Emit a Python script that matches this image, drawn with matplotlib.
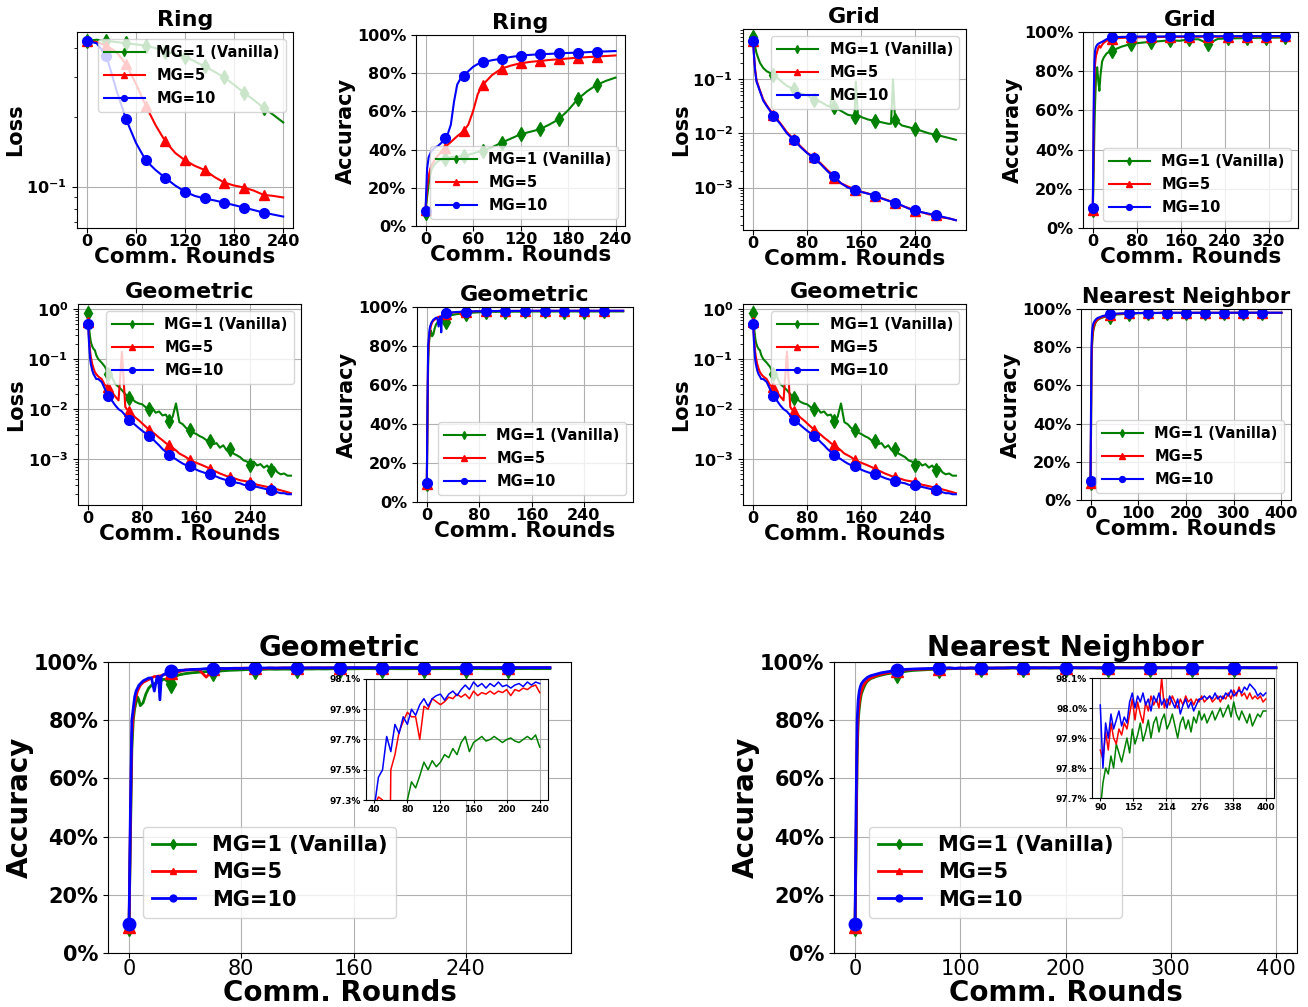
import numpy as np
import matplotlib
matplotlib.use('Agg')
from matplotlib import pyplot as plt
from matplotlib.ticker import NullFormatter

plt.rcParams['font.family'] = 'DejaVu Sans'
plt.rcParams['font.weight'] = 'bold'
plt.rcParams['axes.labelweight'] = 'bold'
plt.rcParams['axes.titleweight'] = 'bold'
plt.rcParams['mathtext.fontset'] = 'custom'
plt.rcParams['mathtext.rm'] = 'DejaVu Sans:bold'
plt.rcParams['mathtext.bf'] = 'DejaVu Sans:bold'
plt.rcParams['mathtext.it'] = 'DejaVu Sans:italic:bold'

labels = ['MG=1 (Vanilla)', 'MG=5', 'MG=10']
colors = ['green', 'red', 'blue']
markers = ['d', '^', 'o']

# ---- Ring: loss ----
ring_loss_x = list(range(0, 241, 12))
ring_loss_g = [0.43, 0.435, 0.43, 0.425, 0.42, 0.415, 0.41, 0.40, 0.386, 0.377, 0.367,
               0.35, 0.333, 0.316, 0.298, 0.277, 0.256, 0.238, 0.22, 0.205, 0.19]
ring_loss_r = [0.43, 0.425, 0.41, 0.385, 0.34, 0.28, 0.225, 0.185, 0.157, 0.14, 0.13,
               0.123, 0.118, 0.11, 0.104, 0.101, 0.099, 0.096, 0.092, 0.091, 0.0896]
ring_loss_b = [0.43, 0.42, 0.37, 0.264, 0.196, 0.155, 0.13, 0.118, 0.109, 0.101, 0.095,
               0.091, 0.0887, 0.087, 0.085, 0.083, 0.081, 0.079, 0.077, 0.0755, 0.074]

# ---- Ring: accuracy (%) ----
ring_acc_x = [0, 2, 4, 6, 8, 12, 16, 20, 24, 28, 32, 36, 40, 44, 48, 54, 60, 66, 72,
              84, 96, 108, 120, 132, 144, 156, 168, 180, 192, 204, 216, 228, 240]
ring_acc_g = [7, 15, 22, 27, 30, 32.5, 34, 35, 35.3, 35.8, 36, 36.2, 36.4, 36.5, 36.6,
              37.3, 38, 38.7, 39.3, 41.2, 43.6, 45.8, 48, 49.3, 50.6, 53, 55.8, 60.5,
              66.3, 70.5, 73.8, 76, 77.7]
ring_acc_r = [8.5, 20, 26, 30, 32, 35, 37, 39, 41, 42.5, 44, 45.5, 47, 48.3, 49.7, 53,
              60, 69, 73.8, 79, 82.4, 84, 85.2, 85.9, 86.4, 86.9, 87.3, 87.7, 88.1,
              88.4, 88.7, 89, 89.3]
ring_acc_b = [8, 30, 36, 38, 39.5, 41, 42, 43.5, 46, 48, 53, 65, 74, 77, 78.3, 81, 83.3,
              84.8, 85.7, 86.8, 87.6, 88.5, 89.2, 89.6, 89.9, 90.1, 90.4, 90.6, 90.8,
              91.0, 91.3, 91.4, 91.6]

# ---- Grid: loss ----
grid_loss_x = [0, 1, 2, 3, 5, 10, 15, 20, 25, 30, 40, 50, 60, 70, 80, 90, 100, 110, 114,
               117, 120, 130, 140, 148, 150, 152, 155, 160, 170, 180, 190, 200, 204, 207,
               210, 220, 230, 240, 250, 260, 270, 280, 290, 300]
grid_loss_g = [0.6, 0.5, 0.45, 0.4, 0.3, 0.2, 0.16, 0.14, 0.13, 0.12, 0.095, 0.075,
               0.065, 0.055, 0.05, 0.042, 0.038, 0.032, 0.031, 0.06, 0.03, 0.026, 0.022,
               0.021, 0.02, 0.09, 0.022, 0.02, 0.018, 0.017, 0.016, 0.015, 0.015, 0.1,
               0.018, 0.014, 0.013, 0.012, 0.011, 0.01, 0.0095, 0.0088, 0.0082, 0.0076]
grid_loss_r = [0.5, 0.32, 0.21, 0.15, 0.095, 0.062, 0.042, 0.033, 0.027, 0.022, 0.0155,
               0.0105, 0.0078, 0.0058, 0.0044, 0.0036, 0.0028, 0.0021, 0.0019, 0.0017,
               0.0015, 0.0012, 0.00105, 0.00095, 0.0009, 0.00088, 0.00086, 0.00084,
               0.00078, 0.0007, 0.00064, 0.00058, 0.00056, 0.00054, 0.00051, 0.00046,
               0.00042, 0.00037, 0.00035, 0.00032, 0.00031, 0.00028, 0.00027, 0.00025]
grid_loss_b = [0.5, 0.3, 0.2, 0.14, 0.09, 0.06, 0.04, 0.032, 0.026, 0.021, 0.015, 0.01,
               0.0076, 0.0056, 0.0043, 0.0035, 0.0027, 0.002, 0.0018, 0.0017, 0.0016,
               0.0012, 0.001, 0.00092, 0.0009, 0.00089, 0.00087, 0.00083, 0.00077,
               0.00071, 0.00063, 0.00057, 0.00055, 0.00054, 0.00052, 0.00047, 0.00041,
               0.00038, 0.00035, 0.00033, 0.00031, 0.00029, 0.00027, 0.00025]

# ---- Grid: accuracy (%) ----
grid_acc_x = [0, 1, 2, 3, 4, 5, 6, 8, 10, 12, 14, 17, 20, 25, 30,
              35, 52, 70, 87, 105, 122, 140, 157, 175, 192, 210, 227, 245, 262, 280,
              297, 315, 332, 350, 355]
grid_acc_g = [9, 20, 35, 50, 62, 70, 78, 82, 75, 70, 78, 85, 87, 89, 90,
              90.5, 92.5, 94, 94.5, 95, 95.3, 95.8, 95.5, 96.2, 96.3, 94, 96.5, 96.7,
              96.8, 96.9, 97, 97.1, 97.1, 97.2, 97.2]
grid_acc_r = [9, 30, 60, 75, 83, 86, 88, 90, 92, 93, 92, 93.5, 94.5, 95.5, 96,
              96.6, 97.0, 97.2, 97.3, 97.4, 97.45, 97.5, 97.5, 97.55, 97.6, 97.6, 97.6,
              97.65, 97.65, 97.7, 97.7, 97.7, 97.7, 97.75, 97.75]
grid_acc_b = [10, 40, 70, 85, 90, 91.5, 92.5, 93.5, 94, 94.3, 94.6, 95, 95.5, 96.3, 96.8,
              97.3, 97.5, 97.6, 97.7, 97.7, 97.75, 97.8, 97.8, 97.8, 97.85, 97.85, 97.85,
              97.9, 97.9, 97.9, 97.9, 97.9, 97.95, 97.95, 97.95]

# ---- Geometric: loss ----
geo_loss_x = [0, 1, 2, 3, 4, 6, 8, 10, 12, 15] + list(range(20, 301, 5))
geo_loss_g = [0.85, 0.5, 0.35, 0.27, 0.22, 0.18, 0.16, 0.15, 0.12, 0.1,
              0.085, 0.07, 0.05, 0.045, 0.032, 0.028, 0.024, 0.02, 0.017, 0.016,
              0.014, 0.013, 0.0125, 0.011, 0.01, 0.0105, 0.0085, 0.009, 0.0075, 0.0078,
              0.0058, 0.007, 0.013, 0.0055, 0.005, 0.0042, 0.0038, 0.0034, 0.0032, 0.0029,
              0.0027, 0.0024, 0.0023, 0.002, 0.0021, 0.0017, 0.0019, 0.0015, 0.0016, 0.0013,
              0.0012, 0.0011, 0.00095, 0.0009, 0.00078, 0.0009, 0.00075, 0.0008, 0.00068,
              0.00075, 0.0006, 0.0007, 0.00055, 0.0005, 0.00052, 0.00047, 0.00047]
geo_loss_r = [0.55, 0.3, 0.2, 0.14, 0.11, 0.08, 0.065, 0.055, 0.05, 0.045,
              0.04, 0.03, 0.028, 0.022, 0.018, 0.015, 0.14, 0.011, 0.009, 0.0078,
              0.0068, 0.006, 0.0052, 0.0045, 0.0039, 0.0035, 0.0031, 0.0027, 0.0024, 0.0021,
              0.0019, 0.0017, 0.0015, 0.0013, 0.0012, 0.0011, 0.00098, 0.0009, 0.00085,
              0.0008, 0.00075, 0.0007, 0.00065, 0.0006, 0.00056, 0.00052, 0.00049, 0.00046,
              0.00044, 0.00042, 0.0004, 0.00038, 0.00037, 0.00036, 0.00035, 0.00033,
              0.00031, 0.0003, 0.00029, 0.00028, 0.00027, 0.00026, 0.00025, 0.00024,
              0.00023, 0.00022, 0.00021]
geo_loss_b = [0.5, 0.25, 0.15, 0.1, 0.08, 0.06, 0.05, 0.045, 0.04, 0.04,
              0.035, 0.025, 0.018, 0.015, 0.012, 0.01, 0.009, 0.0075, 0.0062, 0.0055,
              0.0048, 0.0042, 0.0037, 0.0033, 0.0029, 0.0026, 0.0022, 0.0019, 0.0016,
              0.0014, 0.0012, 0.0011, 0.001, 0.0009, 0.00082, 0.00076, 0.00072, 0.00067,
              0.00062, 0.00058, 0.00055, 0.00052, 0.0005, 0.00047, 0.00045, 0.00042,
              0.0004, 0.00038, 0.00036, 0.00035, 0.00034, 0.00033, 0.00031, 0.0003,
              0.0003, 0.00029, 0.00028, 0.00027, 0.00026, 0.00025, 0.00024, 0.00023,
              0.00022, 0.00021, 0.00021, 0.0002, 0.0002]

# ---- Geometric: accuracy (%) ----
geo_acc_x = [0, 1, 2, 3, 4, 5, 6, 7, 8, 10, 12, 14, 16, 18, 20, 21, 22, 23, 24, 26, 28,
             30, 32, 35] + list(range(40, 301, 5))
geo_acc_g = [9, 40, 70, 80, 84, 86, 88, 87, 85, 86, 89, 91, 92, 92.5, 93, 93, 93.5, 93.5,
             94, 94, 93, 92.5, 94.5, 95.5] + \
            [96.0, 96.3, 96.5, 96.7, 96.6, 96.9, 97.1, 97.2, 97.3, 97.42, 97.38, 97.46,
             97.55, 97.5, 97.56, 97.52, 97.55, 97.6, 97.58, 97.64, 97.6, 97.68, 97.72,
             97.62, 97.68, 97.7, 97.72, 97.69, 97.7, 97.72, 97.7, 97.68, 97.7, 97.71,
             97.69, 97.68, 97.7, 97.72, 97.7, 97.73, 97.65,
             97.7, 97.72, 97.69, 97.71, 97.7, 97.72, 97.7, 97.71, 97.73, 97.7, 97.72, 97.71]
geo_acc_r = [9, 45, 75, 82, 86, 88, 90, 91, 92, 93, 93.5, 94, 94.5, 95, 95, 95.2, 95.2,
             95.3, 95.5, 95.8, 96, 96.2, 96.4, 96.6] + \
            [97.25, 97.32, 97.3, 94.8, 97.5, 97.6, 97.75, 97.82, 97.88, 97.85, 97.85,
             97.7, 97.92, 97.9, 97.97, 97.95, 97.93, 97.95, 97.98, 97.97, 98.0, 97.98,
             98.0, 97.97, 98.02, 97.99, 98.01, 98.0, 98.02, 98.0, 98.02, 98.01, 98.03,
             97.99, 98.03, 98.02, 98.04, 98.03, 98.05, 98.06, 98.01,
             98.03, 98.04, 98.02, 98.04, 98.03, 98.05, 98.03, 98.04, 98.05, 98.03, 98.04, 98.05]
geo_acc_b = [10, 50, 80, 84, 88, 90, 91, 92, 92.5, 93.5, 94, 94.5, 94.5, 90, 95, 95, 87,
             95, 95.5, 96, 96.5, 97, 97, 97.1] + \
            [97.25, 97.45, 97.5, 97.72, 97.62, 97.8, 97.74, 97.85, 97.8, 97.9, 97.86,
             97.93, 97.97, 97.92, 97.97, 97.99, 98.0, 97.96, 98.0, 98.02, 97.99, 98.03,
             98.06, 98.03, 98.08, 98.05, 98.07, 98.04, 98.07, 98.05, 98.08, 98.05, 98.06,
             98.04, 98.06, 98.07, 98.05, 98.08, 98.06, 98.08, 98.07,
             98.06, 98.08, 98.07, 98.06, 98.08, 98.07, 98.08, 98.06, 98.07, 98.08, 98.07, 98.08]

# ---- Nearest Neighbor: accuracy (%) ----
nn_acc_x = [0, 1, 2, 3, 4, 5, 6, 8, 10, 12, 15, 20, 25, 30, 35] + list(range(40, 401, 5))
nn_acc_g = [9, 35, 68, 80, 84, 87, 89, 91, 92.5, 93.5, 94.3, 95, 95.5, 95.9, 96.2] + \
           [96.0, 96.6, 96.9, 97.1, 97.2, 97.3, 97.4, 97.5, 97.55, 97.6] + \
           [97.66, 97.75, 97.8, 97.78, 97.84, 97.8, 97.88, 97.85, 97.82, 97.86,
            97.9, 97.85, 97.93, 97.88, 97.91, 97.95, 97.89, 97.92, 97.96, 97.9,
            97.95, 97.97, 97.92, 97.96, 97.98, 97.93, 97.95, 97.98, 97.94, 97.9,
            97.95, 97.97, 97.93, 97.96, 97.92, 97.97, 97.95, 97.99, 97.96, 97.98,
            97.95, 97.97, 97.99, 97.96, 97.98, 98.0, 97.97, 97.99, 98.01, 97.97,
            98.02, 97.98, 97.96, 97.99, 97.97, 97.95, 97.98, 97.94, 97.96, 97.98,
            97.97, 97.99, 97.99]
nn_acc_r = [9, 40, 72, 82, 86, 88.5, 90, 92, 93, 93.8, 94.5, 95.3, 95.8, 96.2, 96.5] + \
           [96.8, 97.1, 97.3, 97.4, 97.5, 97.55, 97.6, 97.7, 97.72, 97.8] + \
           [97.86, 97.83, 97.92, 97.86, 97.95, 97.9, 97.88, 97.93, 97.91, 97.95,
            97.93, 97.98, 98.03, 97.96, 98.02, 97.98, 97.95, 98.02, 97.99, 98.04,
            98.01, 98.03, 98.0, 98.1, 98.0, 98.03, 98.01, 98.04, 98.02, 98.0,
            98.03, 98.01, 98.04, 98.02, 98.03, 98.01, 98.03, 98.02, 98.04, 98.02,
            98.03, 98.04, 98.02, 98.03, 98.04, 98.02, 98.04, 98.03, 98.05, 98.03,
            98.06, 98.04, 98.07, 98.04, 98.05, 98.03, 98.05, 98.03, 98.04, 98.03,
            98.04, 98.02, 98.03]
nn_acc_b = [10, 50, 80, 87, 90, 91.5, 92.5, 93.5, 94.2, 94.8, 95.3, 95.8, 96.3, 96.6, 96.9] + \
           [97.2, 97.4, 97.5, 97.6, 97.65, 97.7, 97.75, 97.8, 97.82, 97.9] + \
           [98.01, 97.8, 97.95, 97.9, 97.98, 97.93, 97.96, 97.99, 97.94, 97.97,
            97.95, 98.02, 98.05, 98.0, 98.04, 98.02, 98.05, 98.01, 98.03, 97.99,
            98.04, 98.02, 98.05, 98.01, 98.03, 98.0, 98.04, 98.02, 98.0, 98.03,
            97.98, 98.01, 98.03, 98.0, 98.02, 97.99, 98.01, 98.03, 98.03, 98.04,
            98.03, 98.04, 98.03, 98.05, 98.03, 98.04, 98.03, 98.05, 98.04, 98.06,
            98.04, 98.05, 98.06, 98.05, 98.07, 98.06, 98.08, 98.07, 98.06, 98.04,
            98.05, 98.04, 98.05]

W, H = 1308, 1007
fig = plt.figure(figsize=(W / 100, H / 100), dpi=100)


def box(l, r, t, b):
    return [l / W, 1 - b / H, (r - l) / W, (b - t) / H]


def draw(ax, x, ys, step, ms, lw):
    x = np.asarray(x)
    idx = list(np.where((x % step == 0) & (x < x[-1]))[0])
    for y, c, m, lab in zip(ys, colors, markers, labels):
        ax.plot(x, y, color=c, marker=m, markevery=idx, ms=ms, lw=lw, label=lab)


def pct_axis(ax, size):
    ax.set_ylim(0, 100)
    ax.set_yticks(range(0, 101, 20))
    ax.set_yticklabels([f'{v}%' for v in range(0, 101, 20)], fontsize=size)


def small(rect, x, ys, step, title, ylabel, xticks, loc, ylim=None, tsize=16):
    ax = fig.add_axes(box(*rect))
    draw(ax, x, ys, step, ms=7, lw=1.5)
    if ylabel == 'Loss':
        ax.set_yscale('log')
        ax.set_ylim(*ylim)
        ax.yaxis.set_minor_formatter(NullFormatter())
    else:
        pct_axis(ax, 11.5)
    ax.set_xticks(xticks)
    ax.tick_params(labelsize=11.5)
    ax.tick_params(axis='x', pad=0.5)
    ax.set_title(title, fontsize=tsize, pad=4)
    ax.set_xlabel('Comm. Rounds', fontsize=15.5, labelpad=-1)
    ax.set_ylabel(ylabel, fontsize=15, labelpad=1)
    ax.grid(True)
    ax.legend(loc=loc, fontsize=10.5, markerscale=0.6, handlelength=2.8,
              labelspacing=0.55)
    return ax


small((77, 293, 32, 228), ring_loss_x, [ring_loss_g, ring_loss_r, ring_loss_b], 24,
      'Ring', 'Loss', [0, 60, 120, 180, 240], 'upper right', (0.066, 0.47))
small((416, 625, 35, 226), ring_acc_x, [ring_acc_g, ring_acc_r, ring_acc_b], 24,
      'Ring', 'Accuracy', [0, 60, 120, 180, 240], 'lower right')
small((743, 966, 29, 230), grid_loss_x, [grid_loss_g, grid_loss_r, grid_loss_b], 30,
      'Grid', 'Loss', [0, 80, 160, 240], 'upper right', (1.65e-4, 0.84))
small((1083, 1298, 32, 228), grid_acc_x, [grid_acc_g, grid_acc_r, grid_acc_b], 35,
      'Grid', 'Accuracy', [0, 80, 160, 240, 320], 'lower right')
small((78, 301, 304, 505), geo_loss_x, [geo_loss_g, geo_loss_r, geo_loss_b], 30,
      'Geometric', 'Loss', [0, 80, 160, 240], 'upper right', (1.22e-4, 1.26))
small((417, 633, 307, 502), geo_acc_x, [geo_acc_g, geo_acc_r, geo_acc_b], 30,
      'Geometric', 'Accuracy', [0, 80, 160, 240], 'lower right')
small((743, 966, 304, 505), geo_loss_x, [geo_loss_g, geo_loss_r, geo_loss_b], 30,
      'Geometric', 'Loss', [0, 80, 160, 240], 'upper right', (1.22e-4, 1.26))
small((1081, 1291, 309, 500), nn_acc_x, [nn_acc_g, nn_acc_r, nn_acc_b], 40,
      'Nearest Neighbor', 'Accuracy', [0, 100, 200, 300, 400], 'lower right', tsize=15)


def big(rect, irect, x, ys, step, title, xticks, lo, hi, iylim, iyticks, ixticks):
    ax = fig.add_axes(box(*rect))
    draw(ax, x, ys, step, ms=9, lw=2)
    pct_axis(ax, 15)
    ax.set_xticks(xticks)
    ax.set_xticklabels([str(v) for v in xticks], fontsize=15, fontweight='normal')
    ax.tick_params(axis='x', pad=1)
    ax.set_title(title, fontsize=20, pad=4)
    ax.set_xlabel('Comm. Rounds', fontsize=20, labelpad=0)
    ax.set_ylabel('Accuracy', fontsize=20, labelpad=0)
    ax.grid(True)
    ax.legend(loc='lower left', bbox_to_anchor=(0.076, 0.12), borderaxespad=0,
              fontsize=15, markerscale=0.55, handlelength=2.1, labelspacing=0.35)

    ins = fig.add_axes(box(*irect))
    x = np.asarray(x)
    keep = (x >= lo) & (x <= hi)
    for y, c in zip(ys, colors):
        ins.plot(x[keep], np.asarray(y)[keep], color=c, lw=1.1)
    ins.set_ylim(*iylim)
    ins.set_yticks(iyticks)
    ins.set_yticklabels([f'{v:.1f}%' for v in iyticks])
    ins.set_xticks(ixticks)
    ins.tick_params(labelsize=6.5, length=2, pad=1.5)
    ins.grid(True)


big((108, 571, 662, 953), (366, 548, 679, 800), geo_acc_x,
    [geo_acc_g, geo_acc_r, geo_acc_b], 30, 'Geometric', [0, 80, 160, 240],
    40, 240, (97.3, 98.1), [97.3, 97.5, 97.7, 97.9, 98.1], [40, 80, 120, 160, 200, 240])
big((834, 1297, 662, 953), (1092, 1274, 678, 798), nn_acc_x,
    [nn_acc_g, nn_acc_r, nn_acc_b], 40, 'Nearest Neighbor', [0, 100, 200, 300, 400],
    90, 400, (97.7, 98.1), [97.7, 97.8, 97.9, 98.0, 98.1], [90, 152, 214, 276, 338, 400])

fig.savefig('out.png', dpi=100)
